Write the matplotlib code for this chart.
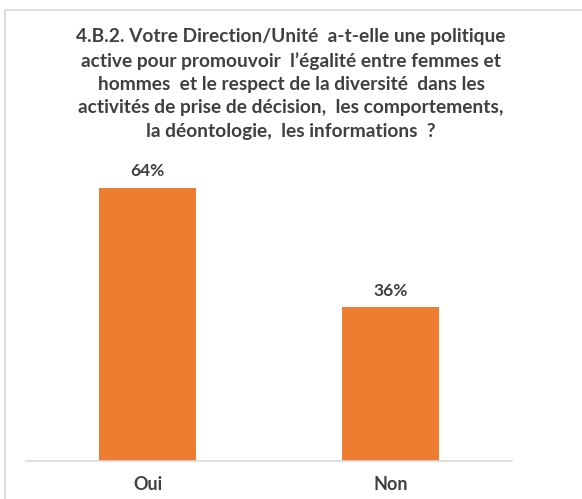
import matplotlib.pyplot as plt
from matplotlib.patches import Rectangle

categories = ['Oui', 'Non']
values = [64, 36]

W, H = 582, 499
fig = plt.figure(figsize=(W / 100, H / 100), dpi=100)
plt.rcParams['font.family'] = ['Lato', 'DejaVu Sans']

# light frame around the chart area
fig.patches.append(Rectangle((5 / W, -0.1), 1.2, (H - 10) / H + 0.1,
                             transform=fig.transFigure, fill=False,
                             edgecolor='#d9d9d9', linewidth=1.2))

title = ("4.B.2. Votre Direction/Unité  a-t-elle une politique\n"
         "active pour promouvoir  l\u2019égalité entre femmes et\n"
         "hommes  et le respect de la diversité  dans les\n"
         "activités de prise de décision,  les comportements,\n"
         "la déontologie,  les informations  ?")
fig.text(0.5, 1 - 84 / H, title, ha='center', va='center', fontsize=13.8,
         fontweight='bold', color='#404040', linespacing=1.45)

ax = fig.add_axes([26 / W, 38 / H, 486 / W, 299 / H])
bars = ax.bar(range(len(categories)), values, width=0.4, color='#ED7D31')
ax.set_xlim(-0.5, 1.5)
ax.set_ylim(0, 70)
for b, v in zip(bars, values):
    ax.text(b.get_x() + b.get_width() / 2, v + 2.0, f'{v}%', ha='center',
            va='bottom', fontsize=12.5, fontweight='bold', color='#404040')

ax.set_xticks(range(len(categories)))
ax.set_xticklabels(categories, fontsize=13, fontweight='bold', color='#404040')
ax.tick_params(axis='x', length=0, pad=11)
ax.set_yticks([])
for s in ['left', 'right', 'top']:
    ax.spines[s].set_visible(False)
ax.spines['bottom'].set_color('#d9d9d9')
ax.spines['bottom'].set_linewidth(1.2)

fig.savefig('out.png', dpi=100)
